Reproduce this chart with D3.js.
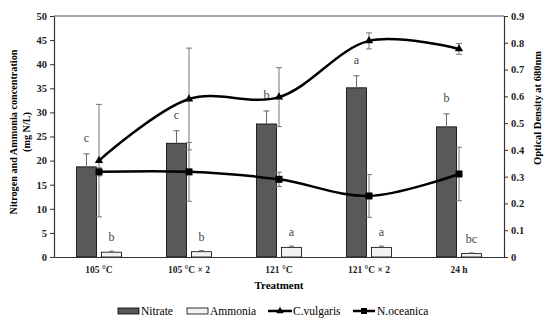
<!DOCTYPE html>
<html>
<head>
<meta charset="utf-8">
<script src="https://cdn.jsdelivr.net/npm/d3@7"></script>
<style>
  body { margin: 0; background: #fff; }
  svg text { font-family: 'Liberation Serif', serif; }
</style>
</head>
<body>
<svg id="chart" width="550" height="321"></svg>
<script>
const categories = ["105 °C", "105 °C × 2", "121 °C", "121 °C × 2", "24 h"];
const nitrate = [18.7, 23.6, 27.6, 35.1, 27.0];
const nitrateErr = [2.7, 2.6, 2.7, 2.5, 2.7];
const nitrateLetters = ["c", "c", "b", "a", "b"];
const ammonia = [1.0, 1.1, 2.0, 2.0, 0.7];
const ammoniaErr = [0.2, 0.2, 0.25, 0.25, 0.15];
const ammoniaLetters = ["b", "b", "a", "a", "bc"];
const vulgaris = [0.36, 0.59, 0.597, 0.807, 0.777];
const vulgarisErr = [0.21, 0.19, 0.11, 0.03, 0.02];
const oceanica = [0.318, 0.318, 0.29, 0.228, 0.31];
const oceanicaErr = [0.015, 0.11, 0.027, 0.08, 0.1];
const leftTicks = [0, 5, 10, 15, 20, 25, 30, 35, 40, 45, 50];
const rightTicks = [0, 0.1, 0.2, 0.3, 0.4, 0.5, 0.6, 0.7, 0.8, 0.9];

const svg = d3.select("#chart");
const mLeft = 54, mRight = 504, mTop = 16, mBottom = 257;

const x = d3.scaleBand().domain(categories).range([mLeft, mRight]);
const yL = d3.scaleLinear().domain([0, 50]).range([mBottom, mTop]);
const yR = d3.scaleLinear().domain([0, 0.9]).range([mBottom, mTop]);
const barW = 20, gap = 5;

// top frame line
svg.append("line").attr("x1", mLeft).attr("x2", mRight).attr("y1", mTop).attr("y2", mTop)
  .attr("stroke", "#888").attr("stroke-width", 1.5);

// bars
const g = svg.append("g");
categories.forEach((c, i) => {
  const cx = x(c) + x.bandwidth() / 2;
  // nitrate
  const nx = cx - gap / 2 - barW;
  g.append("rect").attr("x", nx).attr("y", yL(nitrate[i]))
    .attr("width", barW).attr("height", yL(0) - yL(nitrate[i]))
    .attr("fill", "#595959").attr("stroke", "#000").attr("stroke-width", 0.8);
  const ncx = nx + barW / 2;
  g.append("line").attr("x1", ncx).attr("x2", ncx)
    .attr("y1", yL(nitrate[i])).attr("y2", yL(nitrate[i] + nitrateErr[i]))
    .attr("stroke", "#666");
  g.append("line").attr("x1", ncx - 3).attr("x2", ncx + 3)
    .attr("y1", yL(nitrate[i] + nitrateErr[i])).attr("y2", yL(nitrate[i] + nitrateErr[i]))
    .attr("stroke", "#666");
  g.append("text").attr("x", ncx).attr("y", yL(nitrate[i] + nitrateErr[i]) - 12)
    .attr("text-anchor", "middle").attr("font-size", 12).attr("fill", "#444")
    .text(nitrateLetters[i]);
  // ammonia
  const ax = cx + gap / 2;
  g.append("rect").attr("x", ax).attr("y", yL(ammonia[i]))
    .attr("width", barW).attr("height", yL(0) - yL(ammonia[i]))
    .attr("fill", "#f2f2f2").attr("stroke", "#000").attr("stroke-width", 0.8);
  const acx = ax + barW / 2;
  g.append("line").attr("x1", acx - 2.5).attr("x2", acx + 2.5)
    .attr("y1", yL(ammonia[i] + ammoniaErr[i])).attr("y2", yL(ammonia[i] + ammoniaErr[i]))
    .attr("stroke", "#666");
  g.append("line").attr("x1", acx).attr("x2", acx)
    .attr("y1", yL(ammonia[i])).attr("y2", yL(ammonia[i] + ammoniaErr[i]))
    .attr("stroke", "#666");
  g.append("text").attr("x", acx).attr("y", yL(ammonia[i]) - 11)
    .attr("text-anchor", "middle").attr("font-size", 12).attr("fill", "#444")
    .text(ammoniaLetters[i]);
});

// line series
const px = (d, i) => x(categories[i]) + x.bandwidth() / 2;
function errBars(vals, errs) {
  vals.forEach((v, i) => {
    const cx = px(v, i);
    g.append("line").attr("x1", cx).attr("x2", cx)
      .attr("y1", yR(v - errs[i])).attr("y2", yR(v + errs[i])).attr("stroke", "#777");
    [v - errs[i], v + errs[i]].forEach(e => {
      g.append("line").attr("x1", cx - 3).attr("x2", cx + 3)
        .attr("y1", yR(e)).attr("y2", yR(e)).attr("stroke", "#777");
    });
  });
}
errBars(vulgaris, vulgarisErr);
errBars(oceanica, oceanicaErr);

const line = d3.line().x(px).y(d => yR(d)).curve(d3.curveCatmullRom.alpha(0.5));
[vulgaris, oceanica].forEach(s => {
  g.append("path").attr("d", line(s)).attr("fill", "none")
    .attr("stroke", "#000").attr("stroke-width", 2.5);
});
vulgaris.forEach((v, i) => {
  g.append("path").attr("d", d3.symbol(d3.symbolTriangle, 30)())
    .attr("transform", `translate(${px(v, i)},${yR(v)})`).attr("fill", "#000");
});
oceanica.forEach((v, i) => {
  g.append("rect").attr("x", px(v, i) - 3.5).attr("y", yR(v) - 3.5)
    .attr("width", 7).attr("height", 7).attr("fill", "#000");
});

// axes
const axL = svg.append("g").attr("transform", `translate(${mLeft},0)`)
  .call(d3.axisLeft(yL).tickValues(leftTicks).tickSize(4).tickSizeOuter(0));
const axR = svg.append("g").attr("transform", `translate(${mRight},0)`)
  .call(d3.axisRight(yR).tickValues(rightTicks).tickSize(4).tickSizeOuter(0)
    .tickFormat(d => d === 0 ? "0" : d3.format(".1f")(d)));
const axB = svg.append("g").attr("transform", `translate(0,${mBottom})`)
  .call(d3.axisBottom(x).tickSize(0).tickPadding(9));
[axL, axR, axB].forEach(a => {
  a.attr("font-family", null);
  a.select(".domain").attr("stroke", "#333").attr("stroke-width", 1.2);
  a.selectAll(".tick line").attr("stroke", "#333");
  a.selectAll("text").attr("font-weight", "bold")
    .attr("font-size", 10.5).attr("fill", "#222");
});
axB.selectAll("text").attr("font-size", 9.5);

// titles
svg.append("text").attr("x", 279).attr("y", 289).attr("text-anchor", "middle")
  .attr("font-weight", "bold").attr("font-size", 11).text("Treatment");
const lt = svg.append("text").attr("transform", "translate(17,132) rotate(-90)")
  .attr("text-anchor", "middle").attr("font-weight", "bold").attr("font-size", 10.2);
lt.append("tspan").attr("x", 0).attr("dy", 0).text("Nitrogen and Ammonia concentration");
lt.append("tspan").attr("x", 0).attr("dy", 13).text("(mg N/L)");
svg.append("text").attr("transform", "translate(541,108) rotate(-90)")
  .attr("text-anchor", "middle").attr("font-weight", "bold").attr("font-size", 10.5)
  .text("Optical Density at 680nm");

// legend
const leg = svg.append("g").attr("font-size", 11.5);
const ly = 311;
leg.append("rect").attr("x", 118).attr("y", ly - 3).attr("width", 21).attr("height", 6)
  .attr("fill", "#595959").attr("stroke", "#000").attr("stroke-width", 0.8);
leg.append("text").attr("x", 141).attr("y", ly + 4).text("Nitrate");
leg.append("rect").attr("x", 187).attr("y", ly - 3).attr("width", 21).attr("height", 6)
  .attr("fill", "#f2f2f2").attr("stroke", "#000").attr("stroke-width", 0.8);
leg.append("text").attr("x", 210).attr("y", ly + 4).text("Ammonia");
leg.append("line").attr("x1", 268).attr("x2", 292).attr("y1", ly).attr("y2", ly)
  .attr("stroke", "#000").attr("stroke-width", 2.5);
leg.append("path").attr("d", d3.symbol(d3.symbolTriangle, 24)())
  .attr("transform", `translate(280,${ly})`);
leg.append("text").attr("x", 293).attr("y", ly + 4).text("C.vulgaris");
leg.append("line").attr("x1", 353).attr("x2", 375).attr("y1", ly).attr("y2", ly)
  .attr("stroke", "#000").attr("stroke-width", 2.5);
leg.append("rect").attr("x", 361).attr("y", ly - 3).attr("width", 6).attr("height", 6);
leg.append("text").attr("x", 377).attr("y", ly + 4).text("N.oceanica");
</script>
</body>
</html>
